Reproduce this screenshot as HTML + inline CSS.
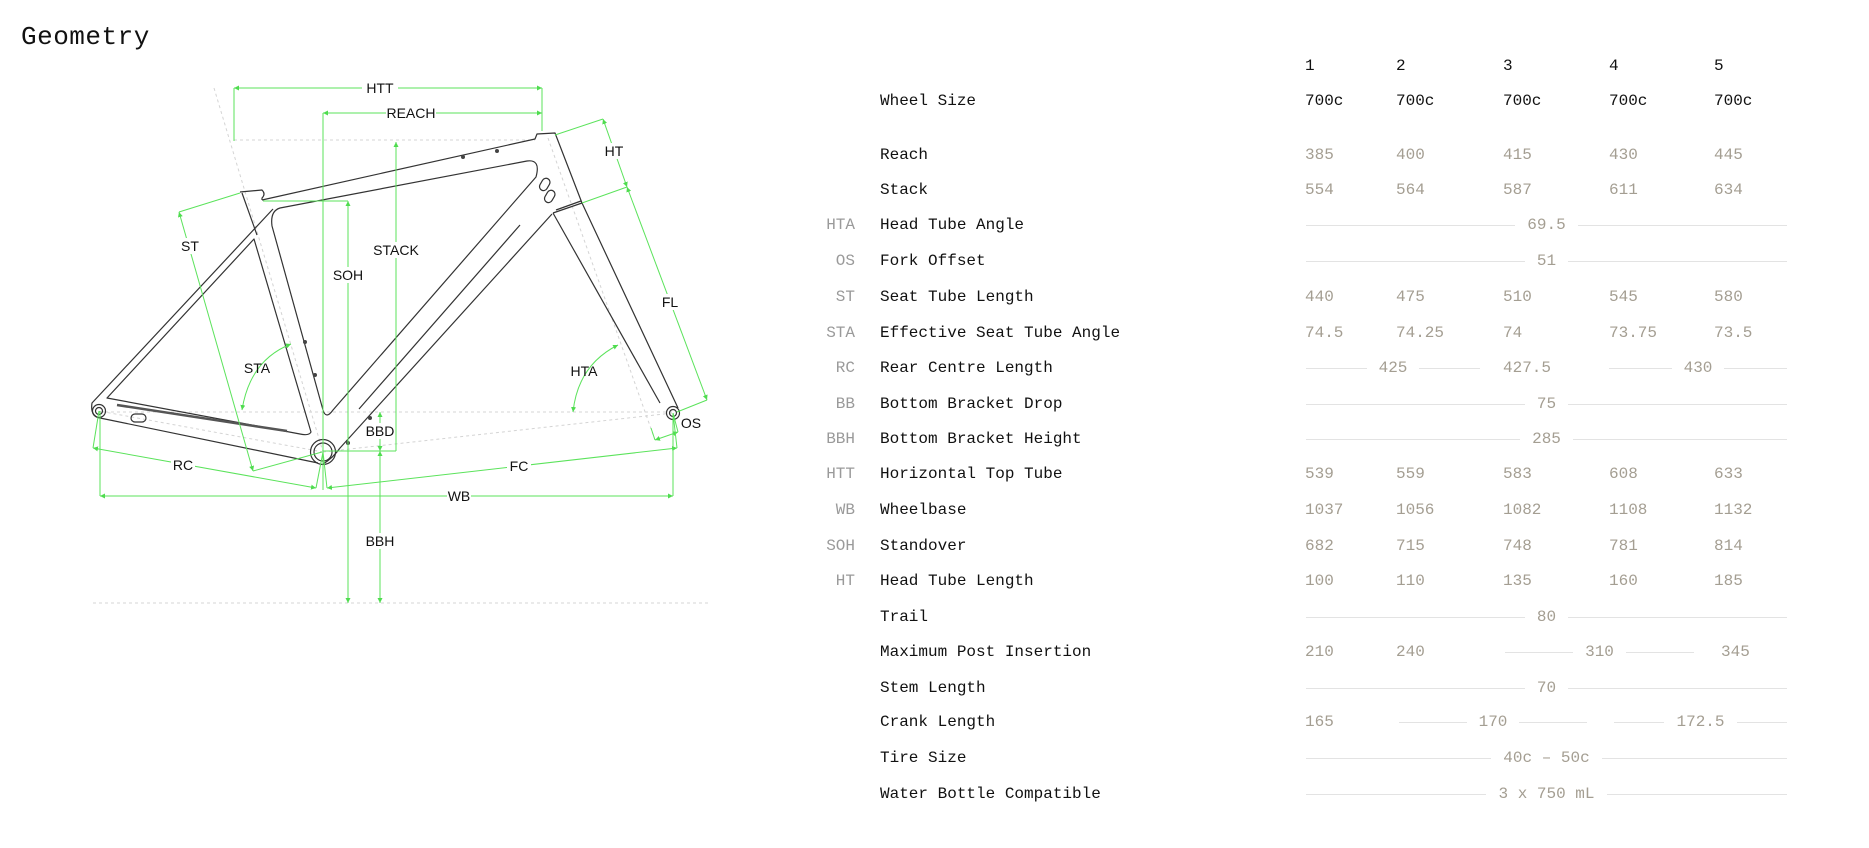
<!DOCTYPE html>
<html><head><meta charset="utf-8"><style>
html,body{margin:0;padding:0;background:#fff;width:1869px;height:848px;overflow:hidden;position:relative}
body{font-family:"Liberation Mono",monospace;font-size:16px;color:#111}
.t{position:absolute;left:21px;top:22px;font-size:26px;color:#111;letter-spacing:0.5px}
.r{position:absolute;left:0;width:1869px;height:20px;line-height:20px}
.r span{position:absolute;white-space:nowrap}
.ab{right:1014px;color:#9a9a9a;text-align:right}
.lb{left:880px;color:#111}
.v{color:#a49e92}
.h{color:#111}
.sp{position:absolute;height:20px;text-align:center;background:linear-gradient(#e3e3e3,#e3e3e3) no-repeat 0 10px/100% 1px}
.sp b{font-weight:normal;background:#fff;padding:0 12px;color:#a49e92}
svg text{font-family:"Liberation Sans",sans-serif;font-size:14px;fill:#111}
</style></head><body>
<div class="t">Geometry</div>
<svg width="760" height="620" style="position:absolute;left:0;top:0" viewBox="0 0 760 620">
<defs><marker id="a" viewBox="0 0 6 6" refX="6" refY="3" markerWidth="5" markerHeight="5" orient="auto-start-reverse"><path d="M0,0 L6,3 L0,6z" fill="#4fdc4f"/></marker></defs>
<g stroke="#d4d4d4" stroke-width="1" stroke-dasharray="3,3" fill="none">
<line x1="99" y1="412" x2="673" y2="412"/>
<line x1="234" y1="140" x2="535" y2="140"/>
<line x1="214" y1="88" x2="323" y2="452"/>
<line x1="323" y1="452" x2="673" y2="413"/>
<line x1="323" y1="452" x2="99" y2="411"/>
<line x1="548" y1="138" x2="655" y2="440"/>
<line x1="93" y1="603" x2="710" y2="603"/>
</g>
<g stroke="#333" stroke-width="1.2" fill="none" stroke-linejoin="round">
<path d="M262,200 L535,139 L537,134 L555,133 L582,203 L678,408"/>
<path d="M553,213 L660,403"/>
<path d="M553,213 L582,203"/>
<path d="M556,210 L581,201"/>
<path d="M552,214 L340,448 Q333,458 323,464"/>
<path d="M280,208 L527,161 Q541,159 536,177 L333,410 Q326,420 323,410 L272,226 Q270,211 280,208 Z"/>
<path d="M520,225 L359,409"/>
<path d="M242,193 L257,235"/>
<path d="M240,192 L262,190 Q266,194 262,198 L262,200"/>
<path d="M273,209 L92,403 Q90,416 100,418 L318,463"/>
<path d="M107,398 L254,239 L311,432 Q309,436 300,434 Z"/>
<path d="M117,405 L287,431" stroke-width="2.5" stroke="#555"/>
<circle cx="323" cy="452" r="12.5"/>
<circle cx="323" cy="452" r="9"/>
<circle cx="99" cy="411" r="6.5"/><circle cx="99" cy="411" r="3.5"/>
<circle cx="673" cy="413" r="6.5"/><circle cx="673" cy="413" r="3.5"/>
<rect x="131" y="414" width="15" height="8" rx="4"/>
<rect x="541" y="178" width="8" height="13" rx="4" transform="rotate(30 545 184)"/>
<rect x="546" y="190" width="8" height="13" rx="4" transform="rotate(30 550 196)"/>
</g>
<g fill="#444"><circle cx="463" cy="157" r="2"/><circle cx="497" cy="151" r="2"/><circle cx="305" cy="342" r="2"/><circle cx="315" cy="375" r="2"/><circle cx="370" cy="418" r="2"/><circle cx="348" cy="443" r="2"/></g>
<g stroke="#5be35b" stroke-width="1" fill="none">
<line x1="234" y1="88" x2="542" y2="88" marker-start="url(#a)" marker-end="url(#a)"/>
<line x1="234" y1="88" x2="234" y2="141"/><line x1="542" y1="88" x2="542" y2="131"/>
<line x1="323" y1="113" x2="542" y2="113" marker-start="url(#a)" marker-end="url(#a)"/>
<line x1="323" y1="113" x2="323" y2="490"/>
<line x1="348" y1="201" x2="348" y2="603" marker-start="url(#a)" marker-end="url(#a)"/>
<line x1="263" y1="201" x2="348" y2="201"/>
<line x1="396" y1="142" x2="396" y2="451" marker-start="url(#a)"/>
<line x1="323" y1="451" x2="396" y2="451"/>
<line x1="380" y1="412" x2="380" y2="451" marker-start="url(#a)" marker-end="url(#a)"/>
<line x1="380" y1="451" x2="380" y2="603" marker-start="url(#a)" marker-end="url(#a)"/>
<line x1="603" y1="119" x2="627" y2="187" marker-start="url(#a)" marker-end="url(#a)"/>
<line x1="555" y1="135" x2="603" y2="119"/><line x1="582" y1="203" x2="627" y2="187"/>
<line x1="627" y1="187" x2="707" y2="400" marker-start="url(#a)" marker-end="url(#a)"/>
<line x1="677" y1="412" x2="707" y2="400"/>
<line x1="655" y1="440" x2="678" y2="432" marker-start="url(#a)" marker-end="url(#a)"/>
<line x1="678" y1="432" x2="673" y2="413"/><line x1="655" y1="440" x2="651" y2="428"/>
<line x1="327" y1="488" x2="677" y2="448" marker-start="url(#a)" marker-end="url(#a)"/>
<line x1="673" y1="413" x2="677" y2="448"/><line x1="323" y1="452" x2="327" y2="488"/>
<line x1="93" y1="448" x2="316" y2="488" marker-start="url(#a)" marker-end="url(#a)"/>
<line x1="99" y1="411" x2="93" y2="448"/><line x1="323" y1="452" x2="316" y2="488"/>
<line x1="100" y1="496" x2="673" y2="496" marker-start="url(#a)" marker-end="url(#a)"/>
<line x1="100" y1="411" x2="100" y2="496"/><line x1="673" y1="413" x2="673" y2="496"/>
<line x1="179" y1="212" x2="253" y2="471" marker-start="url(#a)" marker-end="url(#a)"/>
<line x1="179" y1="212" x2="240" y2="193"/><line x1="253" y1="471" x2="322" y2="452"/>
<path d="M291,344 Q250,360 242,410" marker-start="url(#a)" marker-end="url(#a)"/>
<path d="M618,345 Q578,365 573,412" marker-start="url(#a)" marker-end="url(#a)"/>
</g>
<g text-anchor="middle" dominant-baseline="central">
<rect x="362" y="80" width="36" height="16" fill="#fff"/><text x="380" y="88">HTT</text>
<rect x="386" y="105" width="50" height="16" fill="#fff"/><text x="411" y="113">REACH</text>
<rect x="333" y="267" width="30" height="16" fill="#fff"/><text x="348" y="275">SOH</text>
<rect x="374" y="242" width="44" height="16" fill="#fff"/><text x="396" y="250">STACK</text>
<rect x="366" y="423" width="28" height="16" fill="#fff"/><text x="380" y="431">BBD</text>
<rect x="366" y="533" width="28" height="16" fill="#fff"/><text x="380" y="541">BBH</text>
<rect x="603" y="143" width="22" height="16" fill="#fff"/><text x="614" y="151">HT</text>
<rect x="660" y="294" width="20" height="16" fill="#fff"/><text x="670" y="302">FL</text>
<text x="691" y="423">OS</text>
<rect x="507" y="458" width="24" height="16" fill="#fff"/><text x="519" y="466">FC</text>
<rect x="171" y="457" width="24" height="16" fill="#fff"/><text x="183" y="465">RC</text>
<rect x="447" y="488" width="24" height="16" fill="#fff"/><text x="459" y="496">WB</text>
<rect x="180" y="238" width="20" height="16" fill="#fff"/><text x="190" y="246">ST</text>
<text x="257" y="368">STA</text>
<text x="584" y="371">HTA</text>
</g>
</svg>

<div class="r" style="top:56px"><span class="h" style="left:1305px">1</span><span class="h" style="left:1396px">2</span><span class="h" style="left:1503px">3</span><span class="h" style="left:1609px">4</span><span class="h" style="left:1714px">5</span></div>
<div class="r" style="top:91px"><span class="lb">Wheel Size</span><span class="h" style="left:1305px">700c</span><span class="h" style="left:1396px">700c</span><span class="h" style="left:1503px">700c</span><span class="h" style="left:1609px">700c</span><span class="h" style="left:1714px">700c</span></div>
<div class="r" style="top:145px"><span class="lb">Reach</span><span class="v" style="left:1305px">385</span><span class="v" style="left:1396px">400</span><span class="v" style="left:1503px">415</span><span class="v" style="left:1609px">430</span><span class="v" style="left:1714px">445</span></div>
<div class="r" style="top:180px"><span class="lb">Stack</span><span class="v" style="left:1305px">554</span><span class="v" style="left:1396px">564</span><span class="v" style="left:1503px">587</span><span class="v" style="left:1609px">611</span><span class="v" style="left:1714px">634</span></div>
<div class="r" style="top:215px"><span class="ab">HTA</span><span class="lb">Head Tube Angle</span><div class="sp" style="left:1306px;width:481px"><b>69.5</b></div></div>
<div class="r" style="top:251px"><span class="ab">OS</span><span class="lb">Fork Offset</span><div class="sp" style="left:1306px;width:481px"><b>51</b></div></div>
<div class="r" style="top:287px"><span class="ab">ST</span><span class="lb">Seat Tube Length</span><span class="v" style="left:1305px">440</span><span class="v" style="left:1396px">475</span><span class="v" style="left:1503px">510</span><span class="v" style="left:1609px">545</span><span class="v" style="left:1714px">580</span></div>
<div class="r" style="top:323px"><span class="ab">STA</span><span class="lb">Effective Seat Tube Angle</span><span class="v" style="left:1305px">74.5</span><span class="v" style="left:1396px">74.25</span><span class="v" style="left:1503px">74</span><span class="v" style="left:1609px">73.75</span><span class="v" style="left:1714px">73.5</span></div>
<div class="r" style="top:358px"><span class="ab">RC</span><span class="lb">Rear Centre Length</span><div class="sp" style="left:1306px;width:174px"><b>425</b></div><span class="v" style="left:1503px">427.5</span><div class="sp" style="left:1609px;width:178px"><b>430</b></div></div>
<div class="r" style="top:394px"><span class="ab">BB</span><span class="lb">Bottom Bracket Drop</span><div class="sp" style="left:1306px;width:481px"><b>75</b></div></div>
<div class="r" style="top:429px"><span class="ab">BBH</span><span class="lb">Bottom Bracket Height</span><div class="sp" style="left:1306px;width:481px"><b>285</b></div></div>
<div class="r" style="top:464px"><span class="ab">HTT</span><span class="lb">Horizontal Top Tube</span><span class="v" style="left:1305px">539</span><span class="v" style="left:1396px">559</span><span class="v" style="left:1503px">583</span><span class="v" style="left:1609px">608</span><span class="v" style="left:1714px">633</span></div>
<div class="r" style="top:500px"><span class="ab">WB</span><span class="lb">Wheelbase</span><span class="v" style="left:1305px">1037</span><span class="v" style="left:1396px">1056</span><span class="v" style="left:1503px">1082</span><span class="v" style="left:1609px">1108</span><span class="v" style="left:1714px">1132</span></div>
<div class="r" style="top:536px"><span class="ab">SOH</span><span class="lb">Standover</span><span class="v" style="left:1305px">682</span><span class="v" style="left:1396px">715</span><span class="v" style="left:1503px">748</span><span class="v" style="left:1609px">781</span><span class="v" style="left:1714px">814</span></div>
<div class="r" style="top:571px"><span class="ab">HT</span><span class="lb">Head Tube Length</span><span class="v" style="left:1305px">100</span><span class="v" style="left:1396px">110</span><span class="v" style="left:1503px">135</span><span class="v" style="left:1609px">160</span><span class="v" style="left:1714px">185</span></div>
<div class="r" style="top:607px"><span class="lb">Trail</span><div class="sp" style="left:1306px;width:481px"><b>80</b></div></div>
<div class="r" style="top:642px"><span class="lb">Maximum Post Insertion</span><span class="v" style="left:1305px">210</span><span class="v" style="left:1396px">240</span><div class="sp" style="left:1505px;width:189px"><b>310</b></div><span class="v" style="left:1721px">345</span></div>
<div class="r" style="top:678px"><span class="lb">Stem Length</span><div class="sp" style="left:1306px;width:481px"><b>70</b></div></div>
<div class="r" style="top:712px"><span class="lb">Crank Length</span><span class="v" style="left:1305px">165</span><div class="sp" style="left:1399px;width:188px"><b>170</b></div><div class="sp" style="left:1614px;width:173px"><b>172.5</b></div></div>
<div class="r" style="top:748px"><span class="lb">Tire Size</span><div class="sp" style="left:1306px;width:481px"><b>40c – 50c</b></div></div>
<div class="r" style="top:784px"><span class="lb">Water Bottle Compatible</span><div class="sp" style="left:1306px;width:481px"><b>3 x 750 mL</b></div></div>
</body></html>
